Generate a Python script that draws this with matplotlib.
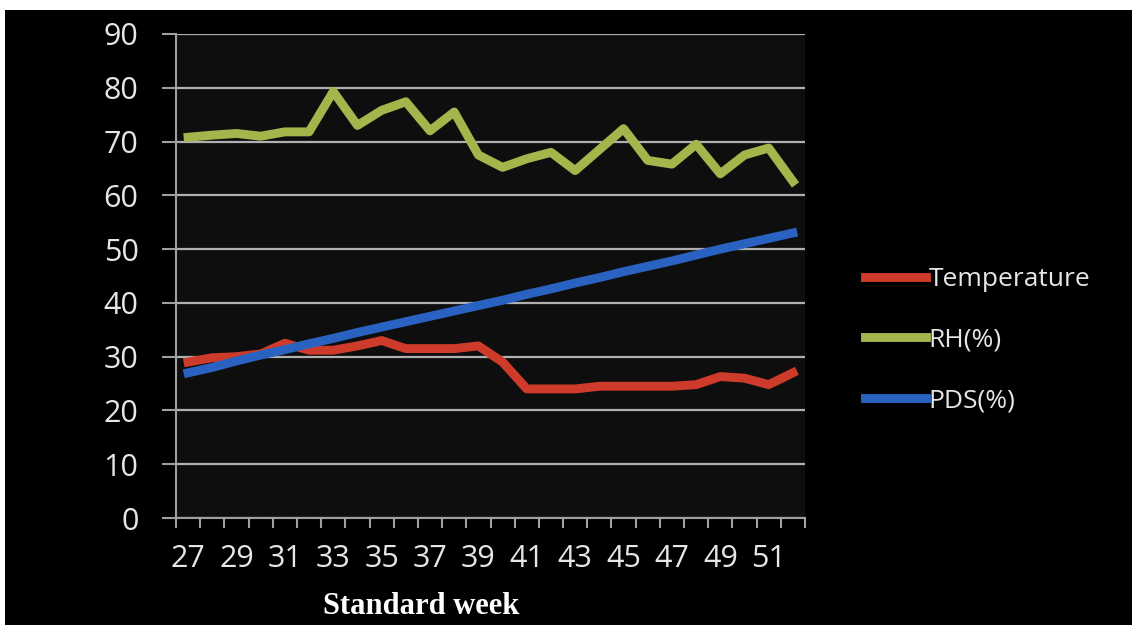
import matplotlib.pyplot as plt
from matplotlib.patches import Rectangle

# Data
weeks = list(range(27, 53))
temperature = [29.0, 29.8, 30.0, 30.5, 32.5, 31.2, 31.2, 32.0, 33.0, 31.5, 31.5, 31.5, 32.0,
               29.0, 24.0, 24.0, 24.0, 24.5, 24.5, 24.5, 24.5, 24.8, 26.3, 26.0, 24.8, 27.0]
rh = [70.8, 71.2, 71.5, 71.0, 71.8, 71.8, 79.3, 73.0, 75.8, 77.4, 72.0, 75.5, 67.5,
      65.2, 66.8, 68.0, 64.6, 68.5, 72.4, 66.5, 65.8, 69.5, 64.0, 67.5, 68.8, 62.6]
pds = [27.0, 28.0, 29.2, 30.3, 31.3, 32.4, 33.4, 34.5, 35.5, 36.5, 37.5, 38.5, 39.5,
       40.5, 41.6, 42.6, 43.7, 44.7, 45.8, 46.8, 47.8, 48.9, 50.0, 51.0, 52.0, 53.0]
yticks = [0, 10, 20, 30, 40, 50, 60, 70, 80, 90]

W, H = 1141, 633
fig = plt.figure(figsize=(W/100, H/100), dpi=100, facecolor='white')

# black slide background
fig.patches.append(Rectangle((5/W, 1-625/H), 1127/W, 615/H, transform=fig.transFigure,
                             facecolor='black', edgecolor='none', zorder=-10))

ax = fig.add_axes([176/W, 1-518/H, 629/W, 484/H])
ax.set_facecolor('#0e0e0e')

x = list(range(len(weeks)))
lw = 6.4
ax.plot(x, temperature, color='#cf3b2b', lw=lw, solid_joinstyle='round', label='Temperature', zorder=3)
ax.plot(x, rh, color='#a5b54c', lw=lw, solid_joinstyle='round', label='RH(%)', zorder=3)
ax.plot(x, pds, color='#2a62c2', lw=lw, label='PDS(%)', zorder=3)

ax.set_xlim(-0.5, len(weeks) - 0.5)
ax.set_ylim(0, 90)
ax.set_yticks(yticks)
ax.yaxis.grid(True, color='#b0b0b0', lw=1.6)
ax.set_axisbelow(True)

for s in ['top', 'right']:
    ax.spines[s].set_visible(False)
for s in ['left', 'bottom']:
    ax.spines[s].set_color('#a0a0a0')
    ax.spines[s].set_linewidth(1.5)

tfont = 'Open Sans'
ax.set_yticklabels([str(v) for v in yticks], fontsize=22, color='#e6e6e6', family=tfont)
ax.tick_params(axis='y', length=10, width=1.5, color='#a0a0a0', pad=17)

ax.set_xticks(x[::2])
ax.set_xticklabels([str(w) for w in weeks[::2]], fontsize=22, color='#e6e6e6', family=tfont)
ax.set_xticks([i - 0.5 for i in range(len(weeks) + 1)], minor=True)
ax.tick_params(axis='x', which='major', length=0, pad=19)
ax.tick_params(axis='x', which='minor', length=7, width=1.5, color='#a0a0a0')

fig.text(421/W, 1-607/H, 'Standard week', ha='center', va='center', color='white',
         fontsize=22, fontweight='bold', family='Liberation Serif')

leg = ax.legend(loc='center left', bbox_to_anchor=((865 - 176)/629, (518 - 340)/484),
                frameon=False, borderpad=0, borderaxespad=0,
                handlelength=2.3, handletextpad=0.12,
                labelspacing=1.35, prop={'family': tfont, 'size': 19})
for t in leg.get_texts():
    t.set_color('#e6e6e6')

fig.savefig('out.png', dpi=100, facecolor='white')
